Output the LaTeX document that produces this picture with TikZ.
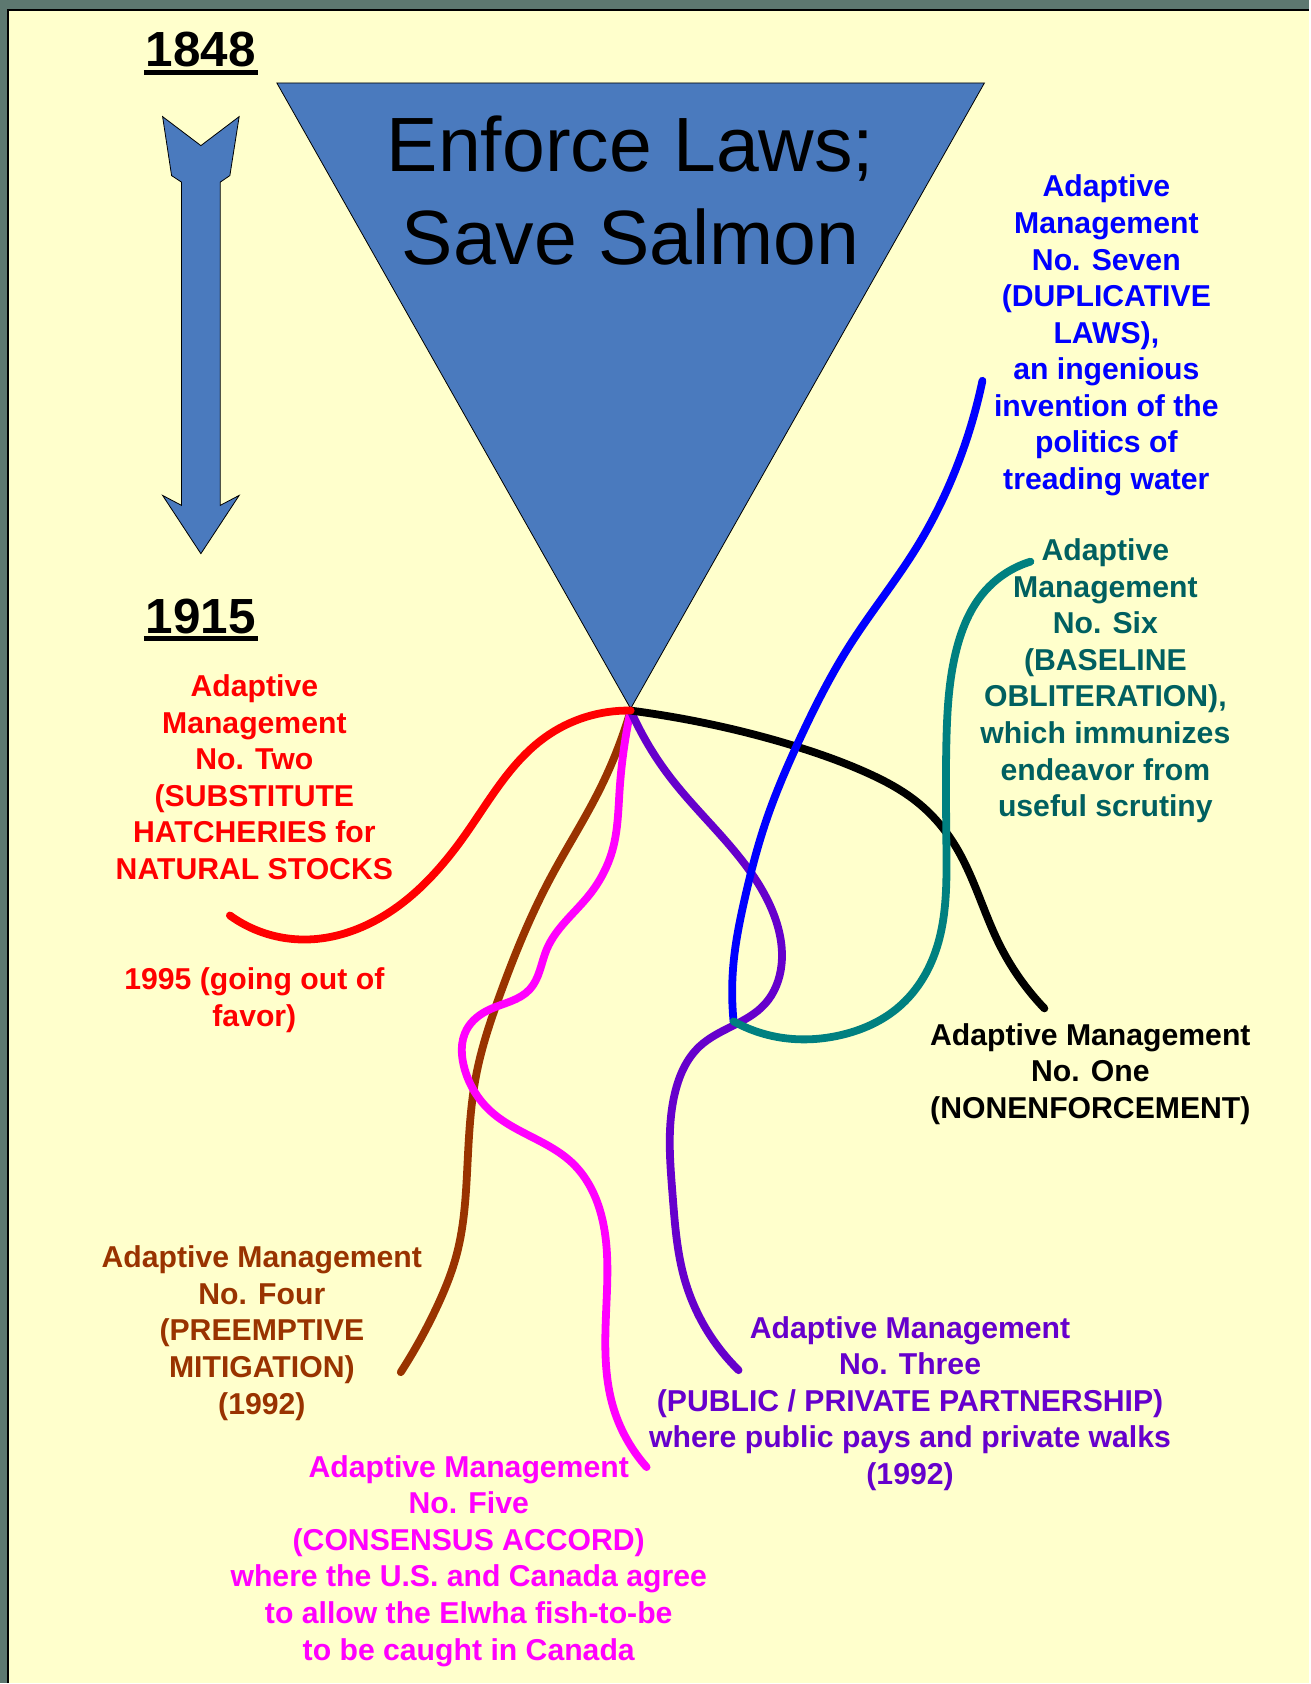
\documentclass[tikz,border=0pt]{standalone}
\usepackage{fontspec}
\setmainfont{Liberation Sans}
\usetikzlibrary{hobby}
\definecolor{framegray}{RGB}{93,120,112}
\definecolor{bgyellow}{RGB}{255,255,204}
\definecolor{triblue}{RGB}{74,122,190}
\definecolor{amred}{RGB}{255,0,0}
\definecolor{amblue}{RGB}{0,0,255}
\definecolor{amteal}{RGB}{0,128,128}
\definecolor{amteal2}{RGB}{0,96,96}
\definecolor{ampurple}{RGB}{102,0,204}
\definecolor{ambrown}{RGB}{153,51,0}
\definecolor{ammag}{RGB}{255,0,255}
\begin{document}
\begin{tikzpicture}[x=0.5pt,y=-0.5pt,
  lbl/.style={font=\bfseries\fontsize{15.1}{18.3}\selectfont, align=center, anchor=base, inner sep=0pt},
  curve/.style={line width=3.9pt, line cap=round, line join=round, use Hobby shortcut},
  yr/.style={font=\bfseries\fontsize{24.7}{28}\selectfont, anchor=base, inner sep=0pt},
  uline/.style={line width=2.8pt}]
\fill[framegray] (0,0) rectangle (1310,1684);
\fill[bgyellow] (8,10) rectangle (1310,1684);
\draw[line width=1pt] (8,1684) -- (8,10) -- (1310,10);
\useasboundingbox (0,0) rectangle (1310,1684);

% big triangle
\draw[fill=triblue, line width=0.4pt] (277,83) -- (985,83) -- (631,709) -- cycle;
\node[font=\fontsize{38.5}{46.5}\selectfont, align=center, anchor=base, inner sep=0pt] (title) at (631,265) {Enforce Laws;\\Save Salmon};

% time arrow
\draw[fill=triblue, line width=0.4pt] (162.7,116.7) -- (201,145.7) -- (239.3,116.7) -- (230,175.7) -- (220.3,182.3) -- (220.3,505.7) -- (239.3,495.7) -- (201,554) -- (162.7,495.7) -- (181.7,505.7) -- (181.7,182.3) -- (171.7,175.7) -- cycle;

\node[yr] (y1848) at (201,67) {1848};
\draw[uline] (144,72.7) -- (258,72.7);
\node[yr] (y1915) at (201,634) {1915};
\draw[uline] (144,639) -- (258,639);

% hub and free ends
\coordinate (hub) at (631,711);
\coordinate (redend) at (230,916);
\coordinate (blackend) at (1045,1009);
\coordinate (bluetop) at (983,381);
\coordinate (bluebot) at (734,1022);
\coordinate (tealtop) at (1031,562);
\coordinate (purpleend) at (739,1371);
\coordinate (brownend) at (401,1373);
\coordinate (magend) at (647,1468);

% curves
\draw[curve, ambrown] (hub) .. (600,790) .. (550,880) .. (500,996) .. (477,1073) .. (468,1160) .. (457,1255) .. (437,1308) .. (brownend);
\draw[curve, ammag] (hub) .. (620,790) .. (613,850) .. (590,895) .. (547,950) .. (530,990) .. (490,1010) .. (467,1030) .. (465,1070) .. (490,1111) .. (573,1164) .. (600,1210) .. (607,1300) .. (613,1406) .. (magend);
\draw[curve, ampurple] (hub) .. (670,777) .. (747,867) .. (775,917) .. (782,965) .. (765,1005) .. (700,1047) .. (675,1095) .. (673,1196) .. (685,1280) .. (purpleend);
\draw[curve, black] (hub) .. (717,726) .. (800,748) .. (867,773) .. (917,802) .. (955,845) .. (1000,945) .. (blackend);
\draw[curve, amblue] (bluetop) .. (960,460) .. (917,548) .. (850,646) .. (800,740) .. (767,820) .. (745,900) .. (734,963) .. (bluebot);
\draw[curve, amteal] (tealtop) .. (985,592) .. (957,650) .. (947,740) .. (947,851) .. (935,955) .. (900,1007) .. (840,1036) .. (780,1038) .. (bluebot);
\draw[curve, amred] (hub) .. (545,738) .. (465,836) .. (370,924) .. (300,940) .. (redend);

% labels (anchor = baseline of last line)
\node[lbl, amblue] (seven) at (1107,489.8) {Adaptive\\Management\\No. Seven\\(DUPLICATIVE\\LAWS),\\an ingenious\\invention of the\\politics of\\treading water};
\node[lbl, amteal2] (six) at (1106,817.2) {Adaptive\\Management\\No. Six\\(BASELINE\\OBLITERATION),\\which immunizes\\endeavor from\\useful scrutiny};
\node[lbl, black] (one) at (1091,1119.2) {Adaptive Management\\No. One\\(NONENFORCEMENT)};
\node[lbl, amred] (two) at (254.5,880) {Adaptive\\Management\\No. Two\\(SUBSTITUTE\\HATCHERIES for\\NATURAL STOCKS};
\node[lbl, amred] (twoyr) at (254.5,1026.6) {1995 (going out of\\favor)};
\node[lbl, ambrown] (four) at (262,1414.9) {Adaptive Management\\No. Four\\(PREEMPTIVE\\MITIGATION)\\(1992)};
\node[lbl, ammag] (five) at (469,1661) {Adaptive Management\\No. Five\\(CONSENSUS ACCORD)\\where the U.S. and Canada agree\\to allow the Elwha fish-to-be\\to be caught in Canada};
\node[lbl, ampurple] (three) at (910.6,1485.4) {Adaptive Management\\No. Three\\(PUBLIC / PRIVATE PARTNERSHIP)\\where public pays and private walks\\(1992)};
\end{tikzpicture}
\end{document}
